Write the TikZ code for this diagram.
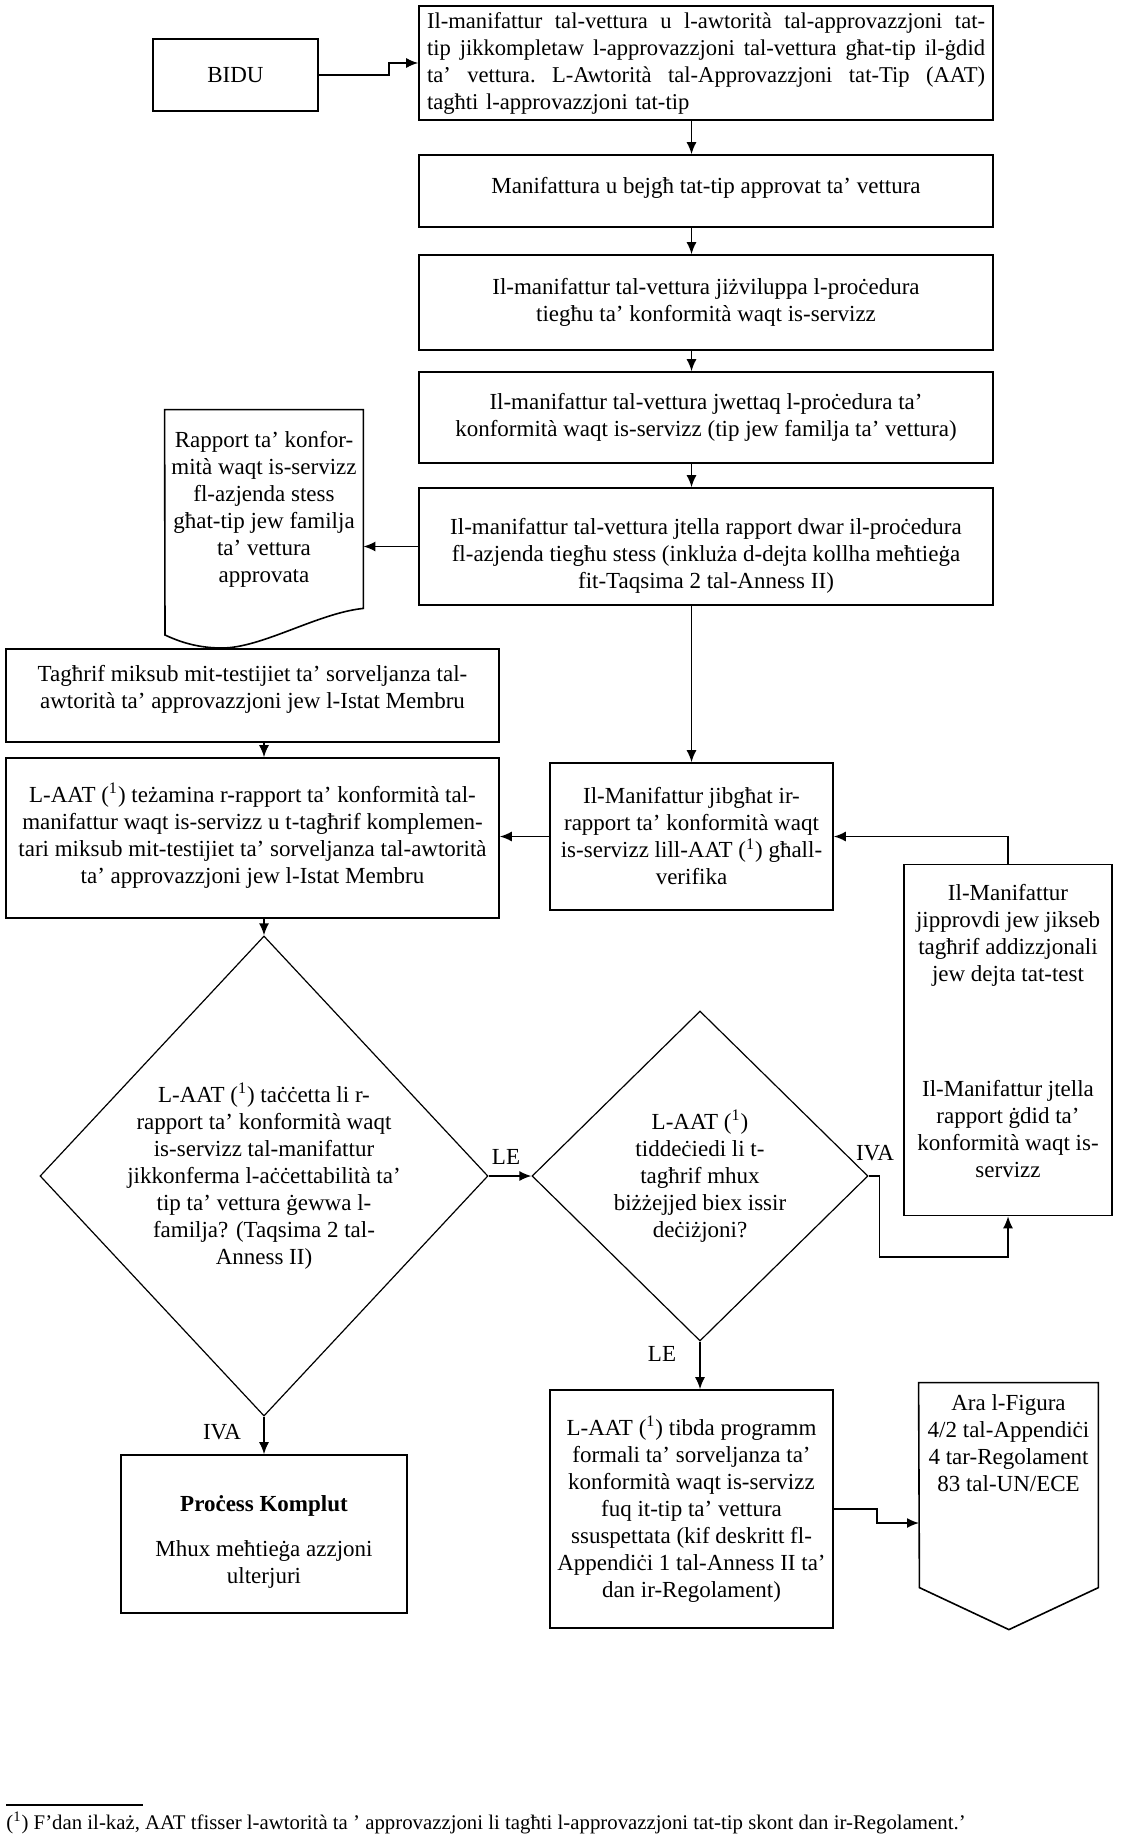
\documentclass[tikz,border=0pt]{standalone}
\usepackage{fontspec}
\setmainfont{Liberation Serif}
\usetikzlibrary{arrows.meta,shapes.geometric}
\newcommand{\spreadln}[1]{\makebox[279pt][s]{\frenchspacing\spaceskip=0pt\xspaceskip=0pt #1}}
\newcommand{\fnmark}{(\textsuperscript{1})}
\newcommand{\lift}[1]{\rule[-#1]{0pt}{0pt}}
\newcommand{\sink}[1]{\rule{0pt}{#1}}
\begin{document}
\begin{tikzpicture}[x=0.5pt,y=-0.5pt,font=\fontsize{11.5}{13.5}\selectfont,
  box/.style={draw,line width=0.8pt,align=center,inner sep=1pt},
  decision/.style={draw,diamond,line width=0.6pt,align=center,inner sep=0pt},
  outline/.style={draw,line width=0.8pt},
  flow/.style={line width=0.8pt,-{Latex[length=6pt,width=5pt]}}]
\useasboundingbox (0,0) rectangle (1126,1841);
\node[box,minimum width=82.5pt,minimum height=36pt] (bidu) at (235.5,75) {BIDU};
\node[box,align=left,text width=279pt,minimum width=287pt,minimum height=57pt,font=\fontsize{11.3}{13.5}\selectfont] (top) at (706,63)
  {\spreadln{Il-manifattur tal-vettura u l-awtorità tal-approvazzjoni tat-}\\
   \spreadln{tip jikkompletaw l-approvazzjoni tal-vettura għat-tip il-ġdid}\\
   \spreadln{ta’ vettura. L-Awtorità tal-Approvazzjoni tat-Tip (AAT)}\\
   tagħti l-approvazzjoni tat-tip};
\node[box,minimum width=287pt,minimum height=36pt] (manuf) at (706,191) {Manifattura u bejgħ tat-tip approvat ta’ vettura\lift{6pt}};
\node[box,minimum width=287pt,minimum height=47.5pt] (develop) at (706,302.5)
  {Il-manifattur tal-vettura jiżviluppa l-proċedura\\ tiegħu ta’ konformità waqt is-servizz};
\node[box,minimum width=287pt,minimum height=45.5pt] (apply) at (706,417.5)
  {Il-manifattur tal-vettura jwettaq l-proċedura ta’\\ konformità waqt is-servizz (tip jew familja ta’ vettura)};
\node[box,minimum width=287pt,minimum height=58.5pt] (report) at (706,546.5)
  {\sink{17pt}Il-manifattur tal-vettura jtella rapport dwar il-proċedura\\ fl-azjenda tiegħu stess (inkluża d-dejta kollha meħtieġa\\ fit-Taqsima 2 tal-Anness II)};
\node[align=center,inner sep=1pt,minimum width=99pt,minimum height=99pt] (rapport) at (264,509)
  {Rapport ta’ konfor-\\ mità waqt is-servizz\\ fl-azjenda stess\\ għat-tip jew familja\\ ta’ vettura\\ approvata};
\draw[outline] (rapport.north west) -- (rapport.north east) -- (rapport.south east)
  .. controls (318,613) and (262,648) .. (222,648)
  .. controls (196,648) and (178,641) .. (165,635) -- cycle;
\node[box,minimum width=246.5pt,minimum height=46.5pt] (tm) at (252.5,695.5)
  {Tagħrif miksub mit-testijiet ta’ sorveljanza tal-\\ awtorità ta’ approvazzjoni jew l-Istat Membru\lift{8.5pt}};
\node[box,minimum width=246.5pt,minimum height=80pt] (la) at (252.5,838)
  {L-AAT \fnmark{} teżamina r-rapport ta’ konformità tal-\\ manifattur waqt is-servizz u t-tagħrif komplemen-\\ tari miksub mit-testijiet ta’ sorveljanza tal-awtorità\\ ta’ approvazzjoni jew l-Istat Membru\lift{5pt}};
\node[box,minimum width=141.5pt,minimum height=73.5pt] (jb) at (691.5,836.5)
  {Il-Manifattur jibgħat ir-\\ rapport ta’ konformità waqt\\ is-servizz lill-AAT \fnmark{} għall-\\ verifika};
\node[box,minimum width=104pt,minimum height=175.5pt] (side) at (1008,1040)
  {Il-Manifattur\\ jipprovdi jew jikseb\\ tagħrif addizzjonali\\ jew dejta tat-test\\[44pt]
   Il-Manifattur jtella\\ rapport ġdid ta’\\ konformità waqt is-\\ servizz\lift{9pt}};
\node[decision,aspect=0.93,minimum width=224pt,minimum height=240pt] (d1) at (264,1176)
  {L-AAT \fnmark{} taċċetta li r-\\ rapport ta’ konformità waqt\\ is-servizz tal-manifattur\\ jikkonferma l-aċċettabilità ta’\\ tip ta’ vettura ġewwa l-\\ familja? (Taqsima 2 tal-\\ Anness II)};
\node[decision,minimum width=168pt,minimum height=165pt] (d2) at (700,1176)
  {L-AAT \fnmark\\ tiddeċiedi li t-\\ tagħrif mhux\\ biżżejjed biex issir\\ deċiżjoni?};
\node[box,minimum width=143pt,minimum height=79pt] (pk) at (264,1534)
  {\sink{16pt}\textbf{Proċess Komplut}\\[9pt] Mhux meħtieġa azzjoni\\ ulterjuri};
\node[box,minimum width=141.5pt,minimum height=119pt] (lp) at (691.5,1509)
  {L-AAT \fnmark{} tibda programm\\ formali ta’ sorveljanza ta’\\ konformità waqt is-servizz\\ fuq it-tip ta’ vettura\\ ssuspettata (kif deskritt fl-\\ Appendiċi 1 tal-Anness II ta’\\ dan ir-Regolament)};
\node[align=center,inner sep=1pt,minimum width=89.5pt,minimum height=60pt] (ara) at (1008.5,1443)
  {Ara l-Figura\\ 4/2 tal-Appendiċi\\ 4 tar-Regolament\\ 83 tal-UN/ECE};
\draw[outline] (ara.north west) -- (ara.north east) -- ++(0,205) -- ++(-89.5,42) -- ++(-89.5,-42) -- cycle;
\coordinate (arain) at (919,1523);
\node (le1) at (506,1157) {LE};
\node (iva1) at (875,1153) {IVA};
\node (le2) at (662,1354) {LE};
\node (iva2) at (222,1432) {IVA};
\draw[flow] (bidu.east) -- ++(70,0) |- (top.west);
\draw[flow] (top.south -| jb) -- (manuf.north -| jb);
\draw[flow] (manuf.south -| jb) -- (develop.north -| jb);
\draw[flow] (develop.south -| jb) -- (apply.north -| jb);
\draw[flow] (apply.south -| jb) -- (report.north -| jb);
\draw[flow] (report.west) -- (report.west -| rapport.east);
\draw[flow] (report.south -| jb) -- (jb.north);
\draw[flow] (tm.south -| d1) -- (la.north -| d1);
\draw[flow] (jb.west) -- (jb.west -| la.east);
\draw[flow] (side.north) |- (jb.east);
\draw[flow] (la.south -| d1) -- (d1.north);
\draw[flow] (d1.east) -- (d2.west);
\draw[flow] (d2.east) -- ++(11,0) -- ++(0,81) -| (side.south);
\draw[flow] (d1.south) -- (pk.north);
\draw[flow] (d2.south) -- (d2.south |- lp.north);
\draw[flow] (lp.east) -- ++(43,0) |- (arain);
\draw[line width=0.8pt] (6,1805) -- (143,1805);
\node[anchor=west,inner sep=0pt,font=\fontsize{10.4}{12}\selectfont] (note) at (6,1823)
  {\fnmark{} F’dan il-każ, AAT tfisser l-awtorità ta ’ approvazzjoni li tagħti l-approvazzjoni tat-tip skont dan ir-Regolament.’};
\end{tikzpicture}
\end{document}
